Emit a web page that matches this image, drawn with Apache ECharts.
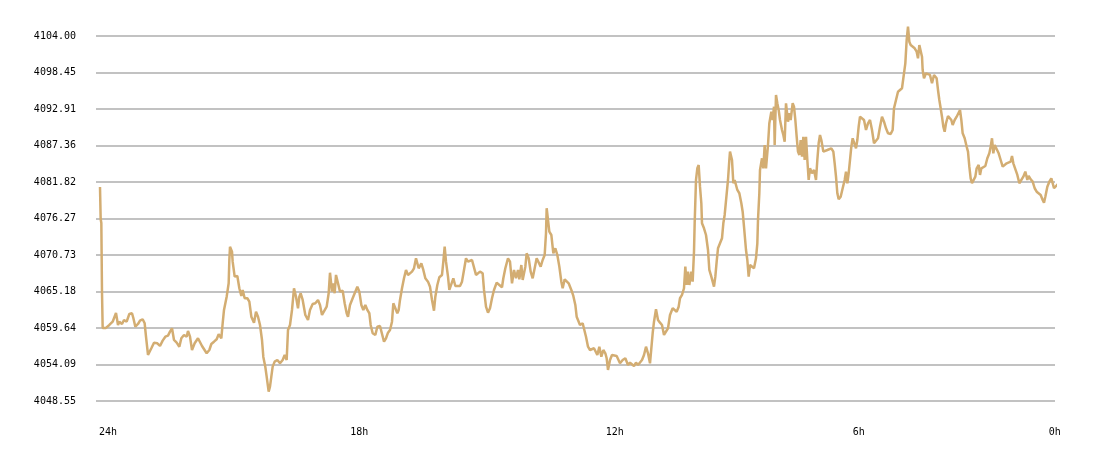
<!DOCTYPE html>
<html>
<head>
<meta charset="utf-8">
<script src="https://cdn.jsdelivr.net/npm/echarts@6/dist/echarts.min.js"></script>
<style>
html, body { margin: 0; padding: 0; background: #fff; }
#main { width: 1100px; height: 458px; }
</style>
</head>
<body>
<div id="main"></div>
<script>
// minutes since the start of the 24h window
var minutes = [
	0,1,2,3,4,9,14,19,24,27,
	29,33,36,40,44,48,50,53,57,60,
	64,67,69,72,77,81,86,90,94,98,
	102,105,108,111,115,119,122,126,130,132,
	135,138,142,147,150,153,156,160,164,167,
	171,175,178,182,184,186,190,193,194,195,
	198,199,200,202,206,209,212,214,217,221,
	224,227,231,234,237,240,243,245,248,250,
	253,255,257,259,262,266,270,274,277,280,
	282,285,288,291,294,297,299,301,304,308,
	312,315,319,323,327,330,333,336,340,343,
	345,348,350,352,354,357,360,364,367,370,
	372,375,379,382,386,389,392,395,398,401,
	404,406,409,413,416,420,423,426,429,432,
	435,438,440,443,446,448,450,453,456,459,
	462,465,468,471,474,478,482,485,488,492,
	495,498,501,503,506,509,513,515,517,519,
	522,524,527,530,533,536,540,543,546,549,
	552,555,558,561,564,567,570,574,576,579,
	582,585,588,591,595,599,603,605,608,612,
	615,618,621,624,627,629,632,634,638,640,
	643,646,649,652,655,658,661,664,667,669,
	670,672,674,677,680,683,686,689,692,694,
	697,700,703,707,710,713,715,717,720,724,
	727,729,732,735,738,741,744,746,749,752,
	755,758,760,762,765,768,771,775,778,780,
	784,788,792,795,798,801,804,807,810,813,
	816,819,822,825,827,829,831,834,837,840,
	843,846,849,852,855,859,862,865,868,870,
	873,876,878,880,882,884,887,889,891,892,
	894,896,898,900,902,903,906,909,912,914,
	917,919,921,923,925,927,930,933,935,937,
	940,942,944,945,948,950,952,954,956,959,
	962,964,966,969,971,973,975,978,981,984,
	986,987,989,990,993,995,997,999,1002,1004,
	1007,1009,1011,1012,1014,1016,1018,1020,1023,1025,
	1027,1029,1032,1034,1036,1039,1041,1043,1045,1047,
	1049,1051,1053,1055,1057,1059,1061,1063,1065,1068,
	1071,1074,1076,1078,1080,1082,1085,1088,1091,1094,
	1097,1100,1102,1104,1106,1108,1111,1114,1117,1119,
	1121,1123,1125,1127,1129,1132,1134,1136,1138,1140,
	1143,1146,1149,1152,1155,1158,1161,1164,1167,1170,
	1173,1176,1179,1182,1186,1189,1191,1194,1197,1200,
	1203,1206,1208,1210,1212,1214,1216,1219,1222,1225,
	1227,1229,1230,1233,1234,1236,1239,1242,1245,1248,
	1251,1253,1255,1257,1259,1261,1263,1265,1267,1269,
	1272,1274,1277,1279,1282,1285,1288,1290,1292,1294,
	1297,1300,1302,1304,1306,1308,1311,1313,1315,1318,
	1320,1322,1325,1328,1331,1334,1336,1338,1340,1342,
	1345,1348,1351,1354,1357,1360,1363,1366,1368,1370,
	1373,1376,1379,1382,1385,1388,1391,1393,1396,1399,
	1402,1405,1408,1411,1414,1416,1418,1421,1424,1427,
	1429,1431,1434,1437
];

var prices = [
	4081.06,4076.20,4075.59,4065.11,4059.65,4059.65,4060.10,4060.60,4061.92,4060.10,
	4060.60,4060.25,4060.86,4060.60,4061.77,4061.88,4061.16,4059.84,4060.25,4060.75,
	4060.97,4060.36,4058.32,4055.54,4056.56,4057.41,4057.32,4056.91,4057.72,4058.32,
	4058.48,4059.08,4059.60,4057.82,4057.41,4056.80,4058.08,4058.58,4058.32,4059.19,
	4058.32,4056.30,4057.32,4058.08,4058.23,4056.91,4056.71,4055.80,4056.30,4057.21,
	4057.56,4057.93,4058.69,4058.08,4060.36,4062.38,4064.40,4066.43,4069.97,4071.99,
	4071.24,4069.72,4068.96,4067.44,4067.54,4065.68,4064.51,4065.42,4064.16,4064.16,
	4063.64,4061.36,4060.45,4062.12,4061.36,4060.10,4057.82,4055.24,4053.72,4052.25,
	4049.97,4050.73,4052.25,4053.77,4054.53,4054.78,4054.28,4054.78,4055.54,4054.78,
	4059.34,4060.10,4062.38,4065.68,4064.40,4062.64,4064.40,4064.92,4063.90,4061.62,
	4060.86,4062.38,4063.29,4063.40,4063.90,4063.14,4061.62,4061.88,4062.88,4064.92,
	4068.04,4065.16,4066.43,4064.92,4067.70,4066.43,4065.16,4065.31,4063.40,4061.88,
	4061.36,4063.14,4064.16,4064.40,4065.92,4065.16,4063.14,4062.38,4063.14,4062.38,
	4061.88,4060.10,4058.84,4058.58,4059.84,4059.95,4059.75,4057.56,4058.08,4058.93,
	4059.34,4060.60,4063.40,4063.14,4061.88,4062.38,4063.90,4065.68,4067.19,4068.46,
	4067.70,4067.95,4068.20,4068.71,4070.23,4068.71,4069.47,4068.46,4067.19,4066.68,
	4065.92,4063.90,4062.27,4064.40,4066.18,4067.35,4067.70,4069.72,4071.99,4069.72,
	4067.44,4065.42,4065.16,4067.19,4066.02,4066.18,4066.02,4066.68,4068.46,4070.23,
	4069.72,4069.47,4069.97,4069.72,4067.70,4067.70,4068.20,4067.95,4065.42,4062.88,
	4061.97,4062.64,4064.16,4065.42,4066.53,4066.18,4065.83,4067.19,4068.71,4070.23,
	4069.72,4066.43,4068.46,4067.19,4068.46,4067.04,4069.21,4066.94,4068.96,4070.99,
	4070.23,4068.20,4067.19,4067.35,4070.23,4070.48,4068.96,4069.97,4070.73,4074.03,
	4077.83,4076.05,4074.27,4073.77,4070.99,4071.75,4070.73,4068.96,4066.68,4065.68,
	4067.04,4066.94,4066.43,4065.42,4064.51,4063.14,4061.36,4061.36,4060.10,4060.36,
	4060.36,4058.32,4056.80,4056.30,4056.05,4056.56,4056.80,4055.54,4056.80,4055.29,
	4056.30,4055.80,4055.04,4053.27,4054.78,4055.54,4055.39,4055.39,4055.29,4054.28,
	4054.78,4055.04,4054.02,4054.37,4054.53,4053.87,4054.37,4054.02,4053.77,4054.78,
	4055.54,4056.80,4055.80,4054.28,4054.53,4058.84,4060.60,4062.49,4060.86,4060.45,
	4060.10,4058.58,4058.58,4059.60,4061.62,4062.64,4062.64,4062.12,4062.88,4064.16,
	4064.66,4065.68,4068.96,4066.18,4068.20,4066.18,4068.20,4066.68,4071.24,4075.55,
	4082.13,4083.90,4084.40,4081.11,4078.59,4075.55,4074.79,4073.77,4071.49,4068.46,
	4067.44,4066.68,4065.92,4067.44,4069.72,4071.75,4072.51,4073.27,4075.55,4076.81,
	4077.07,4082.13,4085.16,4086.43,4085.16,4081.63,4082.13,4081.87,4080.61,4080.11,
	4078.59,4077.31,4075.03,4071.49,4069.97,4067.44,4069.21,4069.47,4068.71,4070.23,
	4072.51,4076.05,4080.11,4083.65,4085.42,4083.90,4087.44,4083.90,4087.44,4090.74,
	4092.50,4091.24,4093.26,4087.44,4095.04,4093.78,4092.76,4091.24,4089.72,4088.96,
	4087.94,4093.78,4090.98,4092.26,4091.24,4093.78,4093.26,4091.24,4088.70,4086.43,
	4085.92,4088.20,4085.67,4088.70,4085.16,4088.70,4085.16,4082.13,4083.90,4083.14,
	4083.65,4082.13,4085.16,4087.70,4088.96,4088.20,4086.43,4086.18,4086.68,4086.94,
	4086.94,4086.43,4084.66,4082.63,4080.11,4079.19,4079.59,4080.87,4082.13,4083.39,
	4081.63,4083.14,4085.16,4087.18,4088.46,4088.70,4086.94,4088.20,4090.22,4091.74,
	4091.50,4091.24,4089.72,4090.74,4091.24,4089.72,4087.70,4087.59,4088.46,4090.22,
	4091.74,4090.98,4089.98,4089.22,4089.11,4089.72,4093.02,4094.28,4095.54,4095.30,
	4096.06,4096.30,4099.85,4103.39,4105.41,4103.13,4102.63,4102.37,4102.13,4101.62,
	4100.61,4102.63,4102.89,4100.86,4098.84,4097.57,4098.33,4098.58,4098.08,4096.82,
	4098.08,4098.33,4097.57,4095.80,4094.28,4093.02,4091.74,4090.22,4089.46,4090.74,
	4091.85,4092.00,4091.24,4090.48,4091.24,4091.74,4092.00,4092.76,4091.24,4089.22,
	4088.46,4087.18,4086.43,4084.15,4082.38,4081.63,4081.63,4082.63,4083.90,4084.40,
	4082.89,4083.90,4083.65,4084.25,4085.42,4086.18,4087.18,4088.46,4086.18,4087.44,
	4087.29,4086.18,4085.16,4084.15,4083.90,4084.66,4084.40,4084.91,4085.77,4084.66,
	4084.40,4082.89,4081.63,4081.37,4082.63,4083.39,4082.13,4082.73,4082.23,4081.87,
	4080.87,4080.35,4080.11,4079.85,4079.09,4078.68,4079.59,4081.11,4081.87,4082.38,
	4081.63,4080.87,4081.11,4081.52
];

var yTickLabels = ['4048.55','4054.09','4059.64','4065.18','4070.73','4076.27',
	'4081.82','4087.36','4092.91','4098.45','4104.00'];

var xTickLabels = ['24h', '18h', '12h', '6h', '0h'];
var xTickMinutes = [12, 389, 772, 1138, 1432];

var seriesData = minutes.map(function (m, i) { return [m, prices[i]]; });

var myChart = echarts.init(document.getElementById('main'));

var option = {
	backgroundColor: '#ffffff',
	animation: false,
	grid: {
		left: 96,
		right: 45,
		top: 36,
		bottom: 57,
		containLabel: false
	},
	xAxis: {
		type: 'value',
		min: -6,
		max: 1432.5,
		axisLine: { show: false },
		axisTick: { show: false },
		splitLine: { show: false },
		axisLabel: {
			customValues: xTickMinutes,
			margin: 26,
			color: '#000',
			fontFamily: 'DejaVu Sans Mono',
			fontSize: 10,
			formatter: function (v) {
				return xTickLabels[xTickMinutes.indexOf(v)];
			}
		}
	},
	yAxis: {
		type: 'value',
		min: 4048.55,
		max: 4104,
		interval: 5.545,
		axisLine: { show: false },
		axisTick: { show: false },
		splitLine: {
			lineStyle: {
				color: '#c2c2c2',
				width: 2
			}
		},
		axisLabel: {
			margin: 20,
			color: '#000',
			fontFamily: 'DejaVu Sans Mono',
			fontSize: 10,
			formatter: function (v, idx) {
				return yTickLabels[idx];
			}
		}
	},
	series: [
		{
			type: 'line',
			data: seriesData,
			showSymbol: false,
			clip: false,
			lineStyle: {
				color: '#d3ad72',
				width: 2.5
			}
		}
	]
};

myChart.setOption(option);
</script>
</body>
</html>
